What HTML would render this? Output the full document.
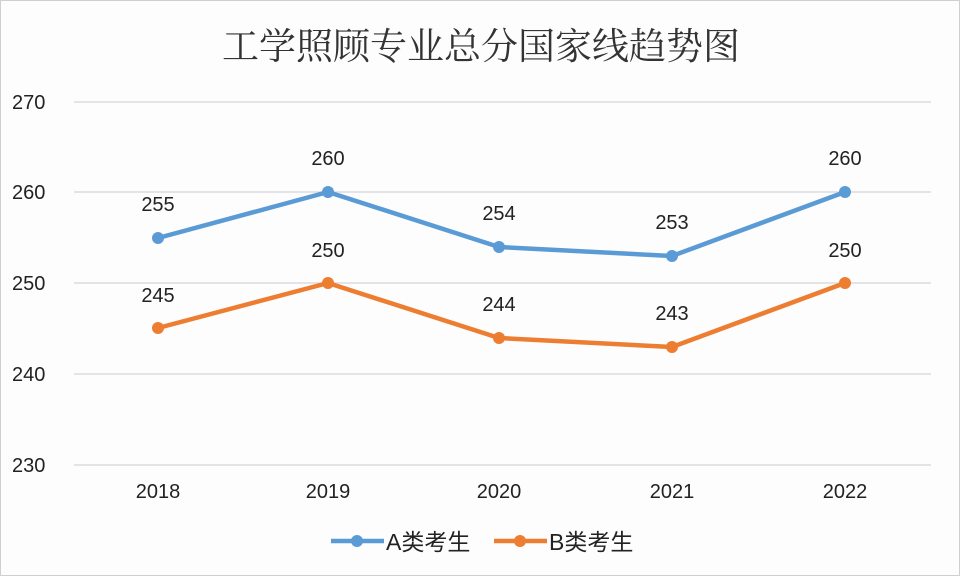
<!DOCTYPE html>
<html><head><meta charset="utf-8"><style>
html,body{margin:0;padding:0;background:#fdfdfe;}
svg{display:block}
text{font-family:"Liberation Sans","Noto Sans CJK SC",sans-serif;fill:#222;}
</style></head><body>
<svg width="960" height="576" viewBox="0 0 960 576" xmlns="http://www.w3.org/2000/svg">
<rect x="0.5" y="0.5" width="959" height="575" fill="#fdfdfe" stroke="#d0d0d0"/>
<text x="481" y="59" text-anchor="middle" font-size="37" style="font-family:'Noto Serif CJK SC',serif;fill:#333">工学照顾专业总分国家线趋势图</text>
<g stroke="#dcdce0" stroke-width="1.5">
<line x1="74" y1="102" x2="931" y2="102"/>
<line x1="74" y1="192" x2="931" y2="192"/>
<line x1="74" y1="283" x2="931" y2="283"/>
<line x1="74" y1="374" x2="931" y2="374"/>
<line x1="74" y1="465" x2="931" y2="465"/>
</g>
<g font-size="20">
<text x="12" y="109">270</text>
<text x="12" y="199">260</text>
<text x="12" y="290">250</text>
<text x="12" y="381">240</text>
<text x="12" y="472">230</text>
</g>
<g font-size="20" text-anchor="middle">
<text x="158" y="498">2018</text>
<text x="328" y="498">2019</text>
<text x="499" y="498">2020</text>
<text x="672" y="498">2021</text>
<text x="845" y="498">2022</text>
</g>
<polyline points="158,238 328,192 499,247 672,256 845,192" fill="none" stroke="#5b9bd5" stroke-width="4.5" stroke-linejoin="round"/>
<polyline points="158,328 328,283 499,338 672,347 845,283" fill="none" stroke="#ed7d31" stroke-width="4.5" stroke-linejoin="round"/>
<g fill="#5b9bd5"><circle cx="158" cy="238" r="6"/><circle cx="328" cy="192" r="6"/><circle cx="499" cy="247" r="6"/><circle cx="672" cy="256" r="6"/><circle cx="845" cy="192" r="6"/></g>
<g fill="#ed7d31"><circle cx="158" cy="328" r="6"/><circle cx="328" cy="283" r="6"/><circle cx="499" cy="338" r="6"/><circle cx="672" cy="347" r="6"/><circle cx="845" cy="283" r="6"/></g>
<g font-size="20" text-anchor="middle">
<text x="158" y="211">255</text><text x="328" y="165">260</text><text x="499" y="220">254</text><text x="672" y="229">253</text><text x="845" y="165">260</text>
<text x="158" y="302">245</text><text x="328" y="257">250</text><text x="499" y="311">244</text><text x="672" y="320">243</text><text x="845" y="257">250</text>
</g>
<line x1="331" y1="541" x2="384" y2="541" stroke="#5b9bd5" stroke-width="4.5"/>
<circle cx="357" cy="541" r="6" fill="#5b9bd5"/>
<text x="386" y="550" font-size="23">A类考生</text>
<line x1="494" y1="541" x2="547" y2="541" stroke="#ed7d31" stroke-width="4.5"/>
<circle cx="520" cy="541" r="6" fill="#ed7d31"/>
<text x="549" y="550" font-size="23">B类考生</text>
</svg>
</body></html>
